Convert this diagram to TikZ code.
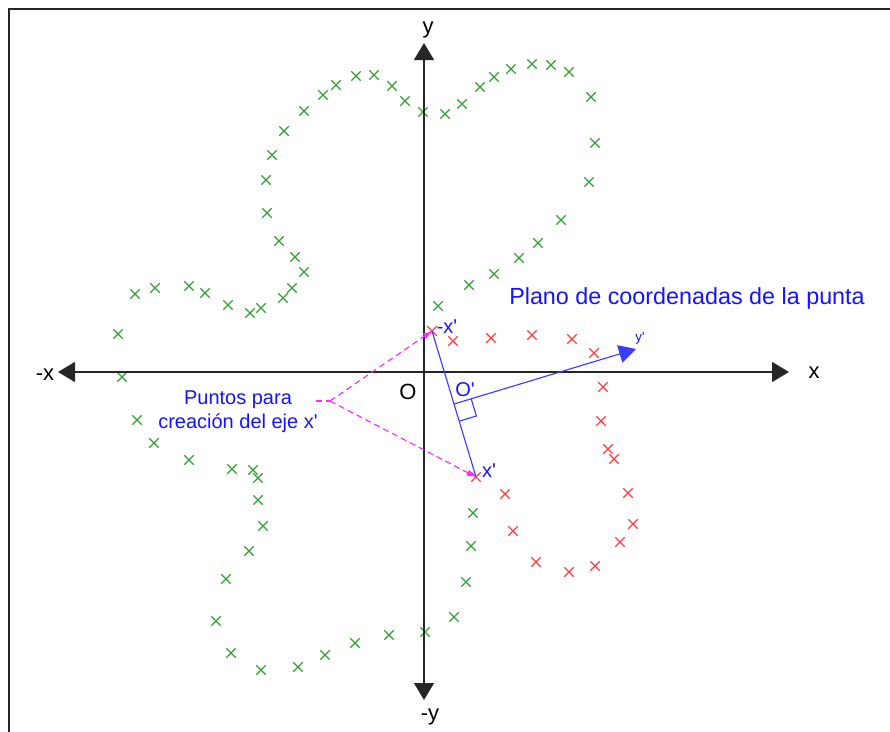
\documentclass[tikz,border=0pt]{standalone}
\usepackage{fontspec}
\setmainfont{Liberation Sans}
\usetikzlibrary{arrows.meta,shapes.misc,calc}
\definecolor{gcol}{RGB}{50,160,50}
\definecolor{rcol}{RGB}{255,60,60}
\definecolor{bcol}{RGB}{20,20,255}
\definecolor{lcol}{RGB}{60,60,255}
\definecolor{mcol}{RGB}{255,40,255}
\newcommand{\q}{\textquotesingle}
\begin{document}
\begin{tikzpicture}[x=0.75pt,y=-0.75pt,
  mk/.style={cross out,draw,minimum size=6.2pt,inner sep=0pt,line width=0.85pt},
  gmk/.style={mk,draw=gcol},
  rmk/.style={mk,draw=rcol},
  axisline/.style={line width=1pt,draw=black!85,
    {Triangle[length=12.75pt,width=15pt]}-{Triangle[length=12.75pt,width=15pt]}},
  axlabel/.style={font=\fontsize{16.5}{19}\selectfont,text=black,inner sep=0pt},
  blabel/.style={font=\fontsize{15}{18}\selectfont,text=bcol,inner sep=0pt},
  bline/.style={draw=lcol,line width=0.85pt},
  mline/.style={draw=mcol,line width=0.85pt,dash pattern=on 4.5pt off 3pt},
  marrow/.style={mline,-{Latex[length=7pt,width=5pt]}}]
\useasboundingbox (0,0) rectangle (890,732);
\draw[line width=1.5pt,draw=black!85] (9,732) -- (9,9) -- (890,9);

% green points
\foreach \p in {(356,76),(374,75),(336,85),(323,95),(392,86),(405,101),(423,112),(445,114),(304,111),(284,131),(272,155),(266,180),(267,213),(279,241),(295,257),(304,272),(292,288),(283,298),(261,308),(250,313),(228,305),(205,293),(189,286),(155,288),(135,294),(118,334),(438,306),
(462,104),(480,87),(494,77),(511,69),(532,64),(551,65),(569,72),(591,97),(595,143),(589,182),(561,220),(538,243),(519,258),(494,274),(469,285),
(122,377),(137,420),(154,443),(189,460),(232,469),(253,470),(258,478),(258,500),(263,526),(249,551),(226,579),(216,621),(231,653),(261,670),(298,667),(325,655),(355,643),(389,635),(425,632),
(473,513),(471,546),(466,582),(454,617)}
  \node[gmk] at \p {};

% red points
\foreach \p in {(453,341),(491,338),(532,335),(572,339),(594,353),(603,387),(601,421),(608,449),(614,459),(628,493),(633,524),(620,542),(595,566),(569,572),(536,562),(513,531),(505,494)}
  \node[rmk] at \p {};
\node[rmk] (nx) at (432,331) {};
\node[rmk] (px) at (476,477) {};

% axes
\coordinate (xl) at (58,372);
\coordinate (xr) at (789,372);
\coordinate (yt) at (424,43);
\coordinate (yb) at (424,700);
\draw[axisline] (xl) -- (xr);
\draw[axisline] (yb) -- (yt);
\node[axlabel] (ylab) at (428,30) {y};
\node[axlabel] (nylab) at (430,717) {-y};
\node[axlabel] (xlab) at (814,373) {x};
\node[axlabel] (nxlab) at (45,375) {-x};
\node[axlabel] (olab) at (408,392) {O};

% tip coordinate plane
\coordinate (Op) at ($(nx.center)!0.5!(px.center)$);
\coordinate (ytip) at (636,349);
\draw[bline] (nx.center) -- (px.center);
\draw[bline,-{Triangle[length=12.75pt,width=13.5pt]}] (Op) -- (ytip);
\draw[bline] (Op) ++(17.2,-5.2) -- ++(5.2,17.2) -- ++(-17.2,5.2);
\node[blabel] (nxl) at (447,327) {-x\q};
\node[blabel] (pxl) at (489,471) {x\q};
\node[blabel] (opl) at (465,390) {O\q};
\node[font=\fontsize{10}{12}\selectfont,text=bcol,inner sep=0pt] (ypl) at (640,338) {y\q};
\node[font=\fontsize{17.5}{20}\selectfont,text=bcol,inner sep=0pt] (title) at (687,298) {Plano de coordenadas de la punta};

% construction points
\coordinate (P) at (330,401);
\coordinate (Ps) at (316,401);
\draw[mline] (Ps) -- (P);
\draw[marrow] (P) -- (nx.center);
\draw[marrow] (P) -- (px.center);
\node[blabel,align=center,font=\fontsize{15}{18}\selectfont] (pts) at (238,412) {Puntos para\\creación del eje x\q};
\end{tikzpicture}
\end{document}
